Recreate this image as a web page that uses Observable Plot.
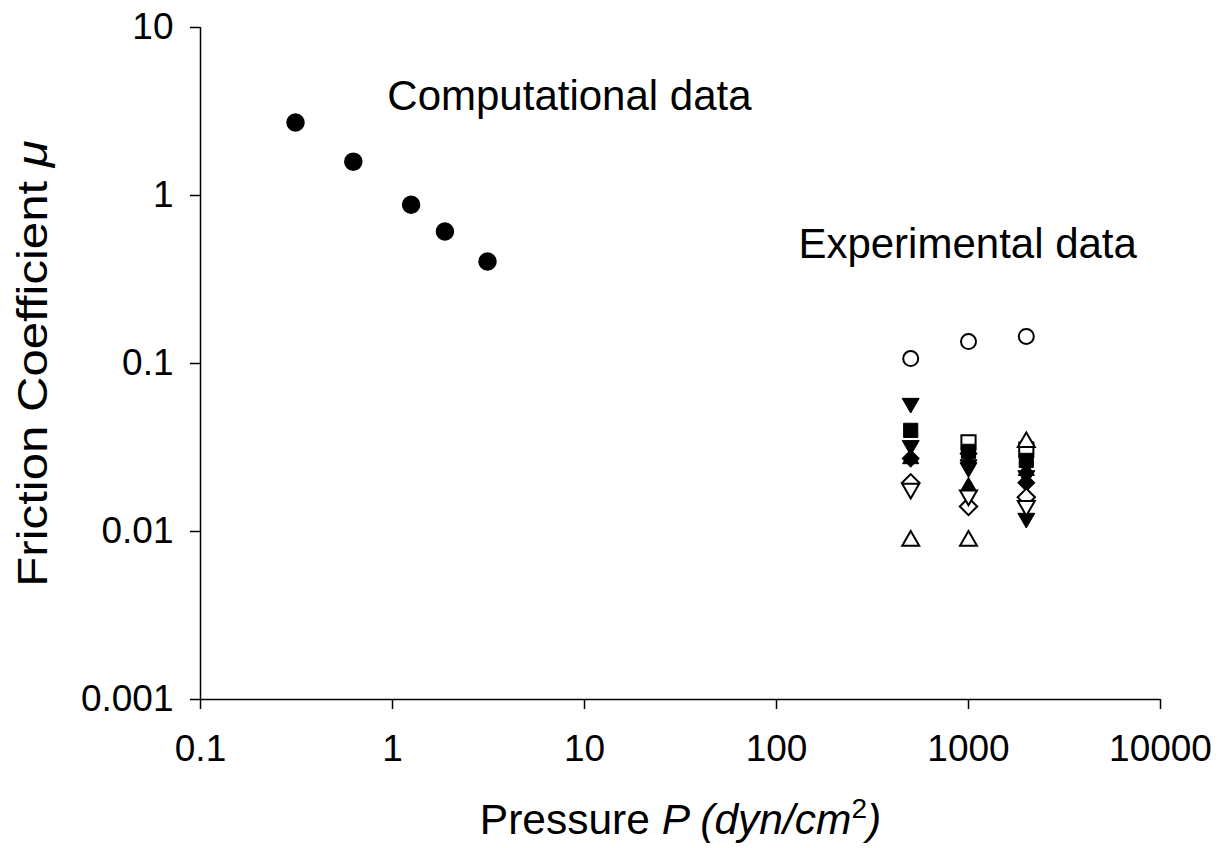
<!DOCTYPE html>
<html>
<head>
<meta charset="utf-8">
<script src="https://cdn.jsdelivr.net/npm/d3@7"></script>
<script src="https://cdn.jsdelivr.net/npm/@observablehq/plot@0.6"></script>
<style>
  html, body { margin: 0; padding: 0; background: white; }
</style>
</head>
<body>
<div id="chart"></div>
<script>
// ---- Data ----
const xTicks = [0.1, 1, 10, 100, 1000, 10000];
const yTicks = [0.001, 0.01, 0.1, 1, 10];

// Computational data
const compPressure = [0.3125, 0.625, 1.25, 1.875, 3.125];
const compMu = [2.72, 1.59, 0.88, 0.61, 0.405];

// Experimental data (pressures 500, 1000, 2000 dyn/cm^2)
const expPressure = [500, 1000, 2000];
const muOpenCircle   = [0.107, 0.135, 0.145];
const muOpenSquare   = [null, 0.0339, 0.0307];
const muFilledSquare = [0.040, 0.030, 0.0265];
const muFilledDiamond= [0.0272, 0.0291, 0.0195];
const muFilledDownA  = [0.058, 0.024, 0.012];
const muFilledDownB  = [0.0325, 0.025, 0.0215];
const muFilledUp     = [0.027, 0.0185, 0.023];
const muOpenDiamond  = [0.0195, 0.0141, 0.016];
const muOpenDown     = [0.018, 0.0164, 0.0142];
const muOpenUp       = [0.0088, 0.0088, 0.034];

// Annotation text and anchor (data space)
const annotations = [
  {label: "Computational data", p: 0.94, mu: 3.9},
  {label: "Experimental data", p: 130, mu: 0.51}
];

// ---- Build ----
const comp = compPressure.map((p, i) => ({p, mu: compMu[i]}));
const rows = (vals) => expPressure.map((p, i) => ({p, mu: vals[i]})).filter(d => d.mu != null);

// marker styles (drawing order)
const seriesStyles = [
  {vals: muOpenCircle,    symbol: "circle",   filled: false, rot: 0,   r: 7.5},
  {vals: muOpenSquare,    symbol: "square",   filled: false, rot: 0,   r: 8.0},
  {vals: muFilledSquare,  symbol: "square",   filled: true,  rot: 0,   r: 8.0},
  {vals: muFilledDiamond, symbol: "diamond2", filled: true,  rot: 0,   r: 7.8},
  {vals: muFilledDownA,   symbol: "triangle", filled: true,  rot: 180, r: 6.3},
  {vals: muFilledDownB,   symbol: "triangle", filled: true,  rot: 180, r: 6.3},
  {vals: muFilledUp,      symbol: "triangle", filled: true,  rot: 0,   r: 6.0},
  {vals: muOpenDiamond,   symbol: "diamond2", filled: false, rot: 0,   r: 7.8},
  {vals: muOpenDown,      symbol: "triangle", filled: false, rot: 180, r: 6.3},
  {vals: muOpenUp,        symbol: "triangle", filled: false, rot: 0,   r: 6.3}
];

const expMarks = seriesStyles.map(s => Plot.dot(rows(s.vals), {
  x: "p", y: "mu", symbol: s.symbol, r: s.r, rotate: s.rot,
  fill: s.filled ? "black" : "white", stroke: "black",
  strokeWidth: s.filled ? 1 : 2
}));

const fontFamily = "'Liberation Sans', Arial, Helvetica, sans-serif";

const svg = Plot.plot({
  width: 1230,
  height: 848,
  marginLeft: 200,
  marginRight: 70,
  marginTop: 27,
  marginBottom: 149,
  x: {type: "log", domain: [0.1, 10000]},
  y: {type: "log", domain: [0.001, 10]},
  style: {fontFamily, color: "black", background: "white", overflow: "visible"},
  marks: [
    Plot.axisY(yTicks, {anchor: "left", tickSize: 10, tickPadding: 17, strokeWidth: 1.5,
      tickFormat: d => String(d), label: null, fontSize: 37}),
    Plot.axisX(xTicks, {anchor: "bottom", tickSize: 10, tickPadding: 25, strokeWidth: 1.5,
      tickFormat: d => String(d), label: null, fontSize: 37}),
    Plot.ruleX([0.1], {strokeWidth: 1.5}),
    Plot.ruleY([0.001], {strokeWidth: 1.5}),
    Plot.dot(comp, {x: "p", y: "mu", r: 8.5, fill: "black", stroke: "black"}),
    ...expMarks,
    Plot.text(annotations, {x: "p", y: "mu", text: "label", textAnchor: "start",
      lineAnchor: "middle", fontSize: 42, fill: "black"}),
    Plot.text(["Friction Coefficient μ"], {frameAnchor: "left", textAnchor: "middle", rotate: -90, dx: -167,
      lineAnchor: "middle", fontSize: 42, fill: "black"}),
    Plot.text(["Pressure P (dyn/cm2)"], {frameAnchor: "bottom", textAnchor: "middle", dy: 121,
      lineAnchor: "middle", fontSize: 42.5, fill: "black"})
  ]
});

// rich text for axis labels
d3.select(svg).selectAll("text").each(function() {
  const t = d3.select(this);
  const s = t.text();
  if (s === "Friction Coefficient μ") {
    t.text(null);
    t.append("tspan").text("Friction Coefficient ");
    t.append("tspan").attr("font-style", "italic").text("μ");
    const tr = t.attr("transform") || "";
    t.attr("transform", tr + " scale(1.17,1)");
  } else if (s === "Pressure P (dyn/cm2)") {
    t.text(null);
    t.append("tspan").text("Pressure ");
    t.append("tspan").attr("font-style", "italic").text("P (dyn/cm");
    t.append("tspan").attr("font-size", 28).attr("dy", -16).text("2");
    t.append("tspan").attr("font-style", "italic").attr("dy", 16).text(")");
  }
});

document.getElementById("chart").appendChild(svg);
</script>
</body>
</html>
